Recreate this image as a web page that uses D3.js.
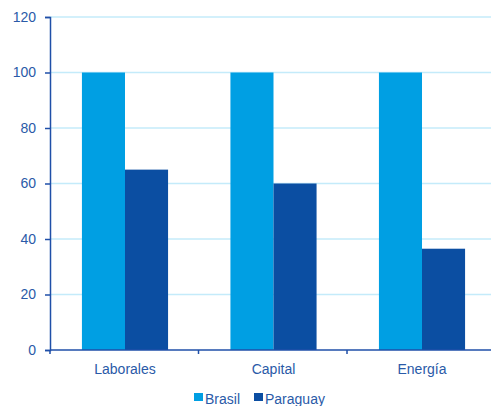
<!DOCTYPE html>
<html lang="es">
<head>
<meta charset="utf-8">
<script src="https://d3js.org/d3.v7.min.js"></script>
<style>
  body { margin: 0; background: #fff; }
  text { font-family: "Liberation Sans", Arial, sans-serif; fill: #2a5aa8; }
</style>
</head>
<body>
<script>
const width = 491, height = 406;
const mLeft = 50, mTop = 17, mBottom = 350, mRight = 497;

// data
const categories = ["Laborales", "Capital", "Energía"];
const series = ["Brasil", "Paraguay"];
const brasil = [100, 100, 100];
const paraguay = [65, 60, 36.5];
const yTicks = [0, 20, 40, 60, 80, 100, 120];
const colors = ["#009fe3", "#0b4ea2"];

const rows = categories.map((c, i) => ({cat: c, vals: [brasil[i], paraguay[i]]}));

const svg = d3.select("body").append("svg")
  .attr("width", width).attr("height", height);

const x = d3.scaleBand().domain(categories).range([mLeft, mRight])
  .paddingInner(0.42).paddingOuter(0.215);
const xs = d3.scaleBand().domain(series).range([0, x.bandwidth()]);
const y = d3.scaleLinear().domain([0, 120]).range([mBottom, mTop]);

// gridlines
svg.append("g").selectAll("line").data(yTicks.filter(d => d > 0)).join("line")
  .attr("x1", mLeft).attr("x2", width)
  .attr("y1", d => y(d)).attr("y2", d => y(d))
  .attr("stroke", "#c4ebfa").attr("stroke-width", 1.5);

// bars
const g = svg.append("g").selectAll("g").data(rows).join("g")
  .attr("transform", d => `translate(${x(d.cat)},0)`);
g.selectAll("rect").data(d => d.vals.map((v, i) => ({s: series[i], v, i}))).join("rect")
  .attr("x", d => xs(d.s)).attr("width", xs.bandwidth())
  .attr("y", d => y(d.v)).attr("height", d => y(0) - y(d.v))
  .attr("fill", d => colors[d.i]);

// y axis
const ya = svg.append("g").attr("transform", `translate(${mLeft},0)`)
  .call(d3.axisLeft(y).tickValues(yTicks).tickSize(5).tickPadding(9));
ya.select(".domain").attr("stroke", "#1f4fa8").attr("stroke-width", 1.5);
ya.selectAll(".tick line").attr("stroke", "#1f4fa8").attr("stroke-width", 1.5);
ya.selectAll("text").style("font-size", "14px").attr("fill", "#2a5aa8");

// x axis
const step = x.step();
const bounds = [mLeft, mLeft + step, mLeft + 2 * step, mLeft + 3 * step];
const xa = svg.append("g").attr("transform", `translate(0,${mBottom})`);
xa.append("line").attr("x1", mLeft).attr("x2", width)
  .attr("stroke", "#1f4fa8").attr("stroke-width", 1.5);
xa.selectAll(".tk").data(bounds).join("line").attr("class", "tk")
  .attr("x1", d => d).attr("x2", d => d).attr("y1", 0).attr("y2", 4)
  .attr("stroke", "#1f4fa8").attr("stroke-width", 1.5);
xa.selectAll("text").data(categories).join("text")
  .attr("x", d => x(d) + x.bandwidth() / 2).attr("y", 24)
  .attr("text-anchor", "middle").style("font-size", "14px").text(d => d);

// legend
const lg = svg.append("g").attr("transform", "translate(194,401)");
const items = [{n: series[0], c: colors[0], dx: 0}, {n: series[1], c: colors[1], dx: 60}];
const li = lg.selectAll("g").data(items).join("g").attr("transform", d => `translate(${d.dx},0)`);
li.append("rect").attr("x", 0).attr("y", -8).attr("width", 9).attr("height", 8).attr("fill", d => d.c);
li.append("text").attr("x", 11).attr("y", 3).style("font-size", "14px").text(d => d.n);
</script>
</body>
</html>
